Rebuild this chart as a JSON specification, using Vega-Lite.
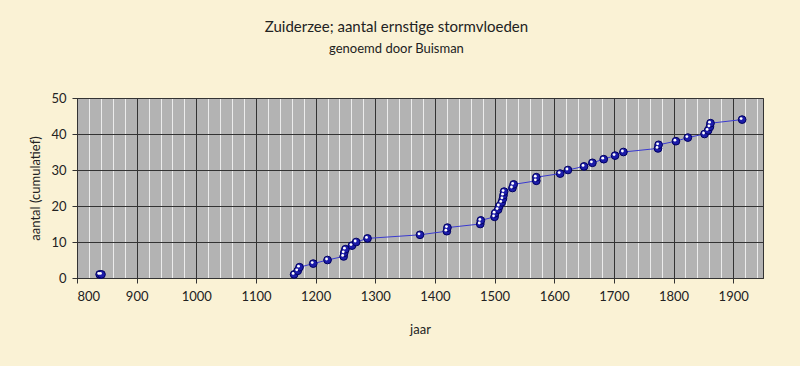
{
  "$schema": "https://vega.github.io/schema/vega-lite/v6.json",
  "autosize": {"type": "none"},
  "width": 686,
  "height": 180,
  "padding": {"left": 77, "top": 98, "right": 37, "bottom": 88},
  "background": "#faf2d5",
  "title": {
    "text": "Zuiderzee; aantal ernstige stormvloeden",
    "subtitle": "genoemd door Buisman",
    "anchor": "middle",
    "frame": "bounds",
    "font": "Lato",
    "fontSize": 15,
    "fontWeight": "normal",
    "color": "#222222",
    "subtitleFont": "Lato",
    "subtitleFontSize": 13,
    "subtitleColor": "#222222",
    "subtitlePadding": 8,
    "offset": 36
  },
  "config": {
    "view": {"fill": "#b3b3b3", "stroke": "#333333", "strokeWidth": 1},
    "axis": {
      "labelFont": "Lato",
      "labelFontSize": 13,
      "labelColor": "#222222",
      "labelOverlap": false,
      "titleFont": "Lato",
      "titleFontSize": 13,
      "titleFontWeight": "normal",
      "titleColor": "#222222"
    }
  },
  "data": {
    "values": [
      {"jaar": 838, "aantal": 1, "reeks": "a"},
      {"jaar": 841, "aantal": 1, "reeks": "a"},
      {"jaar": 1164, "aantal": 1, "reeks": "b"},
      {"jaar": 1170, "aantal": 2, "reeks": "b"},
      {"jaar": 1173, "aantal": 3, "reeks": "b"},
      {"jaar": 1196, "aantal": 4, "reeks": "b"},
      {"jaar": 1220, "aantal": 5, "reeks": "b"},
      {"jaar": 1247, "aantal": 6, "reeks": "b"},
      {"jaar": 1248, "aantal": 7, "reeks": "b"},
      {"jaar": 1250, "aantal": 8, "reeks": "b"},
      {"jaar": 1261, "aantal": 9, "reeks": "b"},
      {"jaar": 1268, "aantal": 10, "reeks": "b"},
      {"jaar": 1287, "aantal": 11, "reeks": "b"},
      {"jaar": 1375, "aantal": 12, "reeks": "b"},
      {"jaar": 1420, "aantal": 13, "reeks": "b"},
      {"jaar": 1421, "aantal": 14, "reeks": "b"},
      {"jaar": 1476, "aantal": 15, "reeks": "b"},
      {"jaar": 1477, "aantal": 16, "reeks": "b"},
      {"jaar": 1500, "aantal": 17, "reeks": "b"},
      {"jaar": 1501, "aantal": 18, "reeks": "b"},
      {"jaar": 1506, "aantal": 19, "reeks": "b"},
      {"jaar": 1508, "aantal": 20, "reeks": "b"},
      {"jaar": 1512, "aantal": 21, "reeks": "b"},
      {"jaar": 1514, "aantal": 22, "reeks": "b"},
      {"jaar": 1515, "aantal": 23, "reeks": "b"},
      {"jaar": 1516, "aantal": 24, "reeks": "b"},
      {"jaar": 1530, "aantal": 25, "reeks": "b"},
      {"jaar": 1532, "aantal": 26, "reeks": "b"},
      {"jaar": 1570, "aantal": 27, "reeks": "b"},
      {"jaar": 1570, "aantal": 28, "reeks": "b"},
      {"jaar": 1610, "aantal": 29, "reeks": "b"},
      {"jaar": 1623, "aantal": 30, "reeks": "b"},
      {"jaar": 1650, "aantal": 31, "reeks": "b"},
      {"jaar": 1664, "aantal": 32, "reeks": "b"},
      {"jaar": 1683, "aantal": 33, "reeks": "b"},
      {"jaar": 1702, "aantal": 34, "reeks": "b"},
      {"jaar": 1716, "aantal": 35, "reeks": "b"},
      {"jaar": 1774, "aantal": 36, "reeks": "b"},
      {"jaar": 1775, "aantal": 37, "reeks": "b"},
      {"jaar": 1804, "aantal": 38, "reeks": "b"},
      {"jaar": 1824, "aantal": 39, "reeks": "b"},
      {"jaar": 1852, "aantal": 40, "reeks": "b"},
      {"jaar": 1858, "aantal": 41, "reeks": "b"},
      {"jaar": 1861, "aantal": 42, "reeks": "b"},
      {"jaar": 1862, "aantal": 43, "reeks": "b"},
      {"jaar": 1915, "aantal": 44, "reeks": "b"}
    ]
  },
  "encoding": {
    "y": {
      "field": "aantal", "type": "quantitative",
      "scale": {"domain": [0, 50], "nice": false},
      "axis": {
        "values": [0, 10, 20, 30, 40, 50],
        "tickCount": 6,
        "grid": true, "gridColor": "#333333", "gridOpacity": 1, "gridWidth": 1,
        "ticks": true, "tickColor": "#333333", "tickSize": 5,
        "domain": true, "domainColor": "#333333",
        "labelPadding": 6,
        "title": "aantal (cumulatief)", "titlePadding": 8
      }
    }
  },
  "resolve": {"axis": {"x": "independent"}},
  "layer": [
    {
      "mark": {"type": "line", "color": "#3a3ad0", "strokeWidth": 1},
      "encoding": {
        "x": {
          "field": "jaar", "type": "quantitative",
          "scale": {"domain": [800, 1950], "nice": false, "zero": false},
          "axis": {
            "orient": "bottom",
            "values": [820,840,860,880,920,940,960,980,1020,1040,1060,1080,1120,1140,1160,1180,1220,1240,1260,1280,1320,1340,1360,1380,1420,1440,1460,1480,1520,1540,1560,1580,1620,1640,1660,1680,1720,1740,1760,1780,1820,1840,1860,1880,1920,1940],
            "grid": true, "gridColor": "#ececec", "gridOpacity": 1, "gridWidth": 1,
            "labels": false, "ticks": false, "domain": false, "title": null
          }
        },
        "detail": {"field": "reeks"}
      }
    },
    {
      "mark": {"type": "point", "filled": true, "color": "#1c1caa", "stroke": "#000060", "strokeWidth": 1, "size": 60, "opacity": 1},
      "encoding": {
        "x": {
          "field": "jaar", "type": "quantitative",
          "axis": {
            "orient": "bottom",
            "values": [800, 900, 1000, 1100, 1200, 1300, 1400, 1500, 1600, 1700, 1800, 1900],
            "format": "d",
            "grid": true, "gridColor": "#333333", "gridOpacity": 1, "gridWidth": 1,
            "ticks": true, "tickColor": "#333333", "tickSize": 5,
            "domain": true, "domainColor": "#333333",
            "labelPadding": 7,
            "title": "jaar", "titlePadding": 20
          }
        }
      }
    },
    {
      "mark": {"type": "point", "filled": true, "color": "#ffffff", "size": 8, "opacity": 1, "xOffset": -1, "yOffset": -1},
      "encoding": {
        "x": {"field": "jaar", "type": "quantitative", "axis": null}
      }
    }
  ]
}
